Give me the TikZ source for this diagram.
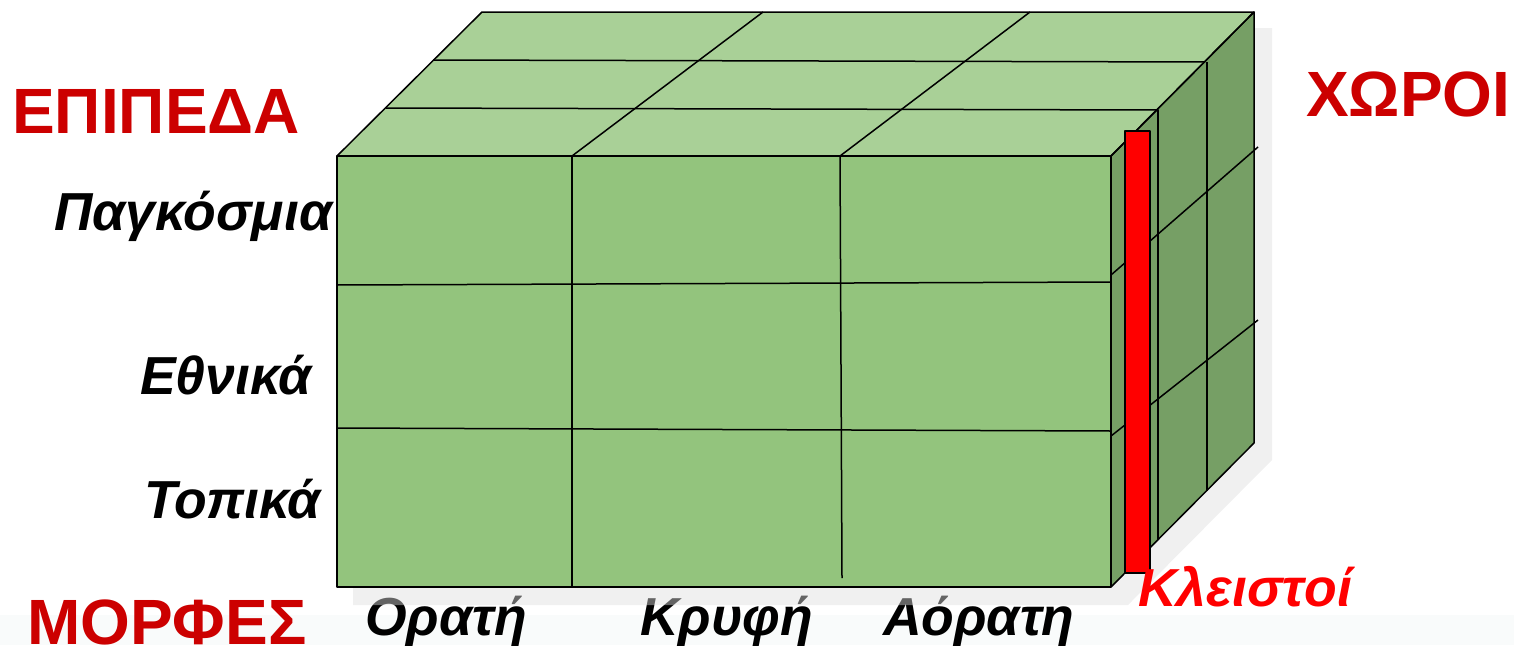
\documentclass[tikz,border=0pt]{standalone}
\usepackage{fontspec}
\setmainfont{Liberation Sans}
\definecolor{hdrred}{RGB}{204,0,0}
\definecolor{frontg}{RGB}{147,196,125}
\definecolor{topg}{RGB}{169,208,151}
\definecolor{sideg}{RGB}{118,159,101}
\definecolor{shadowc}{RGB}{222,222,222}
\definecolor{floorc}{RGB}{249,251,251}
\begin{document}
\begin{tikzpicture}[x=1pt,y=-1pt,line join=round,
  edge/.style={line width=1.5pt,draw=black},
  hdr/.style={text=hdrred,font=\bfseries\fontsize{64}{64}\selectfont,inner sep=0pt,anchor=base west},
  lbl/.style={text=black,font=\bfseries\itshape\fontsize{53.5}{53.5}\selectfont,inner sep=0pt,anchor=base west},
  redlbl/.style={lbl,text=red}]
\useasboundingbox (0,0) rectangle (1514,645);
\fill[floorc] (0,615) rectangle (1514,645);
% bottom labels (partly under the shadow)
\node[lbl] (orati) at (365,635) {Ορατή};
\node[lbl] (kryfi) at (640,635) {Κρυφή};
\node[lbl] (aorati) at (883,635) {Αόρατη};
% shadow
\fill[shadowc,fill opacity=0.45] (353,605) -- (353,170) -- (498,28) -- (1272,28) -- (1272,460) -- (1128,605) -- cycle;
% faces
\fill[topg] (337,156) -- (482,12) -- (1254,12) -- (1111,156) -- cycle;
\fill[sideg] (1111,156) -- (1254,12) -- (1254,443) -- (1111,587) -- cycle;
\fill[frontg] (337,156) rectangle (1111,587);
% top grid
\draw[edge] (386,108) -- (1157,110);
\draw[edge] (433,60) -- (1205,62);
\draw[edge] (572,156) -- (763,12);
\draw[edge] (840,156) -- (1030,12);
% front grid
\draw[edge] (572,156) -- (572,587);
\draw[edge] (840,156) -- (842,578);
\draw[edge] (337,285) -- (1111,282);
\draw[edge] (337,428) -- (1111,431);
% side grid
\draw[edge] (1158,110) -- (1158,540);
\draw[edge] (1207,62) -- (1207,491);
\draw[edge] (1111,275) -- (1258,147);
\draw[edge] (1111,436) -- (1258,320);
% outlines
\draw[edge] (337,156) -- (482,12) -- (1254,12) -- (1111,156);
\draw[edge] (1111,156) -- (1254,12) -- (1254,443) -- (1111,587);
\draw[edge] (337,156) rectangle (1111,587);
% red bar
\node[draw=black,line width=1.5pt,fill=red,inner sep=0pt,minimum width=25pt,minimum height=442pt,anchor=north west] (bar) at (1124,130) {};
% labels
\node[hdr] (epipeda) at (12,133) {ΕΠΙΠΕΔΑ};
\node[hdr] (xoroi) at (1306,116) {ΧΩΡΟΙ};
\node[hdr] (morfes) at (27,644) {ΜΟΡΦΕΣ};
\node[lbl] (pagk) at (54,230) {Παγκόσμια};
\node[lbl] (ethn) at (140,394) {Εθνικά};
\node[lbl] (topk) at (144,518) {Τοπικά};
\node[redlbl] (kleis) at (1138,606) {Κλειστοί};
\end{tikzpicture}
\end{document}
